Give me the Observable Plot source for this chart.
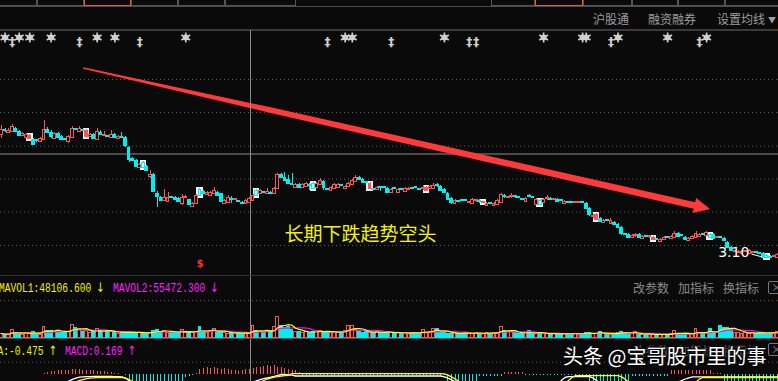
<!DOCTYPE html>
<html><head><meta charset="utf-8">
<script src="https://cdn.jsdelivr.net/npm/d3@7"></script>
<script src="https://cdn.jsdelivr.net/npm/@observablehq/plot@0.6"></script>
<style>
html,body{margin:0;padding:0;background:#0a0a0a;}
#wrap{position:relative;width:778px;height:381px;overflow:hidden;background:#0a0a0a;font-family:"Noto Sans CJK SC","Noto Sans",sans-serif;}
#wrap svg{position:absolute;left:0;}
.mono{font-family:'Liberation Mono','DejaVu Sans Mono',monospace;font-size:12px;line-height:13px;transform:scaleX(0.8);transform-origin:0 0;}
.arr{display:inline-block;font-family:'DejaVu Sans',sans-serif;font-size:13px;margin-left:6px;}
</style></head>
<body><div id="wrap"></div>
<script>
// ---------------- data ----------------
const open = [5.58,5.66,5.62,5.64,5.70,5.64,5.56,5.52,5.50,5.48,5.46,5.44,5.48,5.68,5.62,5.50,5.60,5.54,5.48,5.44,
5.52,5.68,5.64,5.66,5.54,5.54,5.58,5.48,5.62,5.56,5.54,5.52,5.58,5.50,5.54,5.52,5.32,5.10,5.06,4.92,
5.02,4.94,4.74,4.78,4.40,4.32,4.26,4.24,4.32,4.32,4.30,4.20,4.31,4.28,4.14,4.20,4.48,4.44,4.38,4.36,
4.40,4.42,4.40,4.20,4.22,4.28,4.27,4.24,4.22,4.20,4.22,4.26,4.46,4.40,4.42,4.40,4.42,4.40,4.50,4.78,
4.72,4.68,4.60,4.52,4.58,4.52,4.54,4.56,4.60,4.52,4.58,4.64,4.48,4.46,4.50,4.52,4.56,4.50,4.54,4.58,
4.64,4.72,4.68,4.62,4.50,4.48,4.48,4.52,4.52,4.50,4.42,4.50,4.42,4.48,4.44,4.48,4.50,4.52,4.48,4.49,
4.46,4.50,4.50,4.56,4.54,4.48,4.40,4.30,4.20,4.24,4.26,4.26,4.21,4.20,4.25,4.24,4.21,4.16,4.20,4.16,
4.18,4.22,4.34,4.31,4.33,4.34,4.32,4.28,4.24,4.34,4.32,4.18,4.26,4.22,4.29,4.28,4.27,4.28,4.26,4.20,
4.22,4.22,4.21,4.21,4.22,4.20,4.10,3.93,3.88,3.90,3.82,3.86,3.80,3.82,3.78,3.72,3.58,3.58,3.52,3.55,
3.58,3.50,3.54,3.53,3.48,3.48,3.44,3.48,3.52,3.50,3.52,3.60,3.56,3.52,3.46,3.50,3.52,3.54,3.58,3.56,
3.58,3.58,3.51,3.52,3.50,3.42,3.32,3.23,3.22,3.20,3.23,3.20,3.21,3.22,3.20,3.20,3.16,3.14,3.13,3.12];
const close = [5.68,5.65,5.66,5.74,5.64,5.56,5.60,5.58,5.56,5.38,5.45,5.50,5.68,5.62,5.54,5.60,5.52,5.48,5.47,5.54,
5.70,5.67,5.70,5.65,5.66,5.58,5.50,5.64,5.58,5.58,5.53,5.58,5.52,5.54,5.52,5.36,5.08,5.06,4.94,4.98,
4.92,4.86,4.78,4.44,4.34,4.26,4.32,4.32,4.31,4.28,4.24,4.32,4.32,4.18,4.20,4.36,4.36,4.40,4.42,4.42,
4.46,4.36,4.24,4.26,4.32,4.27,4.28,4.23,4.20,4.26,4.30,4.36,4.36,4.46,4.41,4.44,4.40,4.50,4.78,4.72,
4.66,4.60,4.58,4.58,4.52,4.58,4.60,4.55,4.50,4.60,4.66,4.52,4.47,4.52,4.58,4.58,4.55,4.54,4.60,4.66,
4.72,4.68,4.62,4.61,4.60,4.47,4.52,4.51,4.51,4.42,4.48,4.49,4.48,4.47,4.50,4.50,4.49,4.51,4.47,4.50,
4.52,4.54,4.56,4.55,4.46,4.42,4.28,4.22,4.26,4.23,4.25,4.25,4.22,4.28,4.26,4.23,4.22,4.20,4.19,4.20,
4.26,4.38,4.33,4.32,4.34,4.33,4.31,4.27,4.30,4.33,4.31,4.28,4.18,4.28,4.30,4.27,4.28,4.24,4.25,4.24,
4.21,4.21,4.22,4.22,4.21,4.10,3.98,3.94,3.98,3.84,3.86,3.85,3.86,3.78,3.72,3.60,3.57,3.52,3.56,3.56,
3.52,3.54,3.53,3.54,3.52,3.47,3.48,3.52,3.51,3.54,3.60,3.54,3.55,3.48,3.50,3.54,3.60,3.58,3.57,3.62,
3.52,3.50,3.52,3.51,3.46,3.32,3.26,3.24,3.24,3.24,3.24,3.26,3.22,3.21,3.19,3.12,3.12,3.11,3.14,3.18];
const high = [5.76,5.70,5.70,5.78,5.72,5.66,5.62,5.60,5.58,5.50,5.48,5.52,5.86,5.72,5.66,5.62,5.62,5.56,5.50,5.56,
5.74,5.70,5.74,5.68,5.68,5.60,5.60,5.70,5.66,5.64,5.56,5.66,5.60,5.56,5.62,5.54,5.34,5.12,5.08,5.00,
5.04,4.96,4.86,4.80,4.44,4.34,4.48,4.42,4.34,4.34,4.32,4.38,4.36,4.28,4.22,4.38,4.50,4.46,4.44,4.44,
4.52,4.44,4.40,4.28,4.36,4.34,4.30,4.26,4.24,4.28,4.32,4.38,4.48,4.48,4.44,4.50,4.44,4.52,4.80,4.80,
4.82,4.76,4.80,4.60,4.60,4.60,4.62,4.60,4.62,4.62,4.70,4.66,4.50,4.54,4.60,4.60,4.58,4.56,4.62,4.68,
4.76,4.74,4.70,4.64,4.62,4.50,4.54,4.54,4.54,4.52,4.50,4.52,4.50,4.50,4.52,4.52,4.52,4.54,4.50,4.56,
4.54,4.56,4.60,4.60,4.56,4.50,4.42,4.32,4.28,4.26,4.28,4.28,4.24,4.30,4.28,4.28,4.24,4.22,4.22,4.22,
4.28,4.40,4.38,4.34,4.40,4.36,4.34,4.30,4.32,4.38,4.34,4.30,4.28,4.30,4.36,4.32,4.30,4.30,4.28,4.26,
4.24,4.24,4.24,4.24,4.24,4.22,4.12,3.98,4.00,3.92,3.88,3.88,3.90,3.84,3.80,3.74,3.60,3.60,3.58,3.60,
3.60,3.56,3.56,3.56,3.54,3.50,3.50,3.54,3.54,3.56,3.64,3.62,3.58,3.54,3.52,3.56,3.64,3.60,3.60,3.64,
3.60,3.60,3.54,3.54,3.52,3.44,3.34,3.26,3.26,3.26,3.26,3.28,3.24,3.24,3.22,3.22,3.18,3.16,3.16,3.20];
const low = [5.50,5.62,5.60,5.64,5.62,5.54,5.54,5.50,5.48,5.36,5.42,5.42,5.46,5.60,5.50,5.48,5.52,5.46,5.46,5.40,
5.50,5.66,5.62,5.64,5.54,5.52,5.50,5.48,5.56,5.54,5.52,5.52,5.52,5.50,5.50,5.32,5.02,5.04,4.94,4.92,
4.92,4.84,4.70,4.44,4.12,4.26,4.26,4.24,4.30,4.28,4.24,4.16,4.30,4.18,4.14,4.20,4.36,4.38,4.38,4.36,
4.40,4.36,4.24,4.20,4.22,4.20,4.26,4.22,4.20,4.20,4.22,4.26,4.36,4.40,4.40,4.40,4.40,4.40,4.50,4.72,
4.64,4.58,4.56,4.52,4.52,4.52,4.54,4.46,4.50,4.52,4.58,4.46,4.46,4.46,4.50,4.52,4.54,4.50,4.54,4.58,
4.64,4.68,4.62,4.60,4.50,4.46,4.48,4.44,4.50,4.42,4.42,4.48,4.42,4.46,4.44,4.48,4.48,4.50,4.46,4.46,
4.46,4.50,4.50,4.52,4.46,4.42,4.28,4.18,4.20,4.22,4.24,4.24,4.20,4.20,4.22,4.20,4.20,4.16,4.18,4.16,
4.18,4.22,4.30,4.30,4.30,4.30,4.30,4.26,4.24,4.32,4.30,4.18,4.18,4.22,4.26,4.26,4.26,4.24,4.24,4.20,
4.20,4.20,4.20,4.20,4.20,4.10,3.94,3.90,3.88,3.84,3.82,3.84,3.80,3.78,3.72,3.56,3.56,3.52,3.52,3.52,
3.52,3.50,3.52,3.50,3.48,3.46,3.44,3.48,3.50,3.50,3.52,3.54,3.54,3.48,3.46,3.50,3.52,3.54,3.56,3.56,
3.52,3.50,3.50,3.50,3.46,3.32,3.26,3.22,3.22,3.20,3.22,3.20,3.20,3.20,3.18,3.12,3.10,3.11,3.12,3.12];
const volume = [32000,24000,24000,64000,40000,32000,24000,32000,40000,48000,32000,24000,88000,
56000,56000,48000,56000,48000,40000,48000,104000,80000,72000,48000,56000,
40000,48000,72000,56000,48000,56000,48000,40000,32000,40000,48000,48000,40000,32000,40000,40000,32000,
40000,56000,64000,48000,56000,40000,40000,48000,40000,64000,40000,48000,40000,48000,88000,
48000,40000,56000,72000,40000,48000,40000,32000,40000,32000,40000,32000,40000,32000,96000,
56000,48000,40000,48000,56000,88000,168000,96000,80000,88000,64000,48000,48000,40000,48000,40000,48000,
56000,56000,40000,48000,40000,48000,40000,48000,56000,96000,96000,
64000,48000,40000,48000,40000,40000,48000,40000,40000,48000,40000,32000,40000,32000,40000,32000,40000,40000,32000,
64000,40000,48000,72000,72000,40000,40000,32000,32000,40000,32000,32000,40000,32000,
32000,40000,32000,32000,40000,32000,40000,40000,88000,56000,48000,48000,40000,32000,32000,40000,56000,
32000,32000,40000,32000,32000,24000,32000,32000,24000,32000,32000,32000,32000,24000,32000,40000,40000,32000,32000,
48000,32000,32000,24000,32000,40000,48000,40000,32000,32000,48000,
24000,24000,24000,24000,32000,24000,24000,24000,24000,32000,56000,32000,24000,32000,24000,32000,72000,
40000,32000,32000,72000,48000,48000,96000,80000,80000,72000,
40000,40000,32000,40000,32000,40000,32000,40000,40000,32000,40000,32000,48000];
const macd = [-0.01,-0.01,-0.01,-0.01,-0.01,-0.01,-0.01,-0.01,-0.01,-0.01,-0.01,-0.01,0.03,
0.08,0.10,0.11,0.12,0.13,0.14,0.15,0.16,0.18,0.16,0.15,0.14,0.13,0.12,0.11,0.10,0.09,0.08,
0.06,0.04,0.02,0.01,-0.02,
-0.3,-0.3,-0.3,-0.3,-0.3,-0.3,-0.3,-0.3,-0.3,-0.3,-0.3,-0.3,-0.3,-0.3,-0.3,-0.3,
-0.10,-0.05,-0.02,0.02,
0.18,0.20,0.22,0.20,0.23,0.20,0.18,0.19,0.17,0.15,0.13,0.10,0.15,0.16,0.169,
0.20,0.22,0.25,0.28,0.30,0.27,0.30,0.25,0.22,0.20,0.17,0.15,0.12,0.08,
-0.02,-0.02,-0.02,-0.02,-0.02,-0.02,-0.02,-0.02,-0.02,-0.02,-0.02,-0.02,-0.02,-0.02,-0.02,-0.02,-0.02,-0.02,-0.02,-0.02,
-0.02,-0.02,-0.02,-0.02,-0.02,-0.02,-0.02,-0.02,-0.02,-0.02,-0.02,-0.02,-0.02,-0.02,-0.02,-0.02,-0.02,-0.02,-0.02,-0.02,-0.02,
-0.3,-0.3,-0.3,-0.3,-0.3,-0.3,-0.3,-0.3,-0.3,
-0.05,-0.05,-0.05,-0.05,-0.05,-0.05,-0.05,
0.07,0.07,0.07,0.07,0.07,0.07,
-0.03,-0.03,-0.03,-0.03,-0.03,-0.03,-0.03,-0.03,-0.03,-0.03,-0.03,-0.03,-0.03,-0.03,-0.03,-0.03,-0.03,-0.03,
-0.3,-0.3,-0.3,-0.3,-0.3,-0.3,-0.3,-0.3,-0.3,-0.3,-0.3,-0.3,
-0.05,-0.05,-0.05,-0.05,-0.05,-0.05,-0.05,-0.05,-0.05,-0.05,-0.05,
0.13,0.13,0.13,0.13,0.13,0.13,0.13,0.13,0.13,0.13,0.13,0.13,
0.03,0.03,0.03,
-0.3,-0.3,-0.3,-0.3,-0.3,-0.3,-0.3,-0.3,-0.3,-0.3,-0.3,-0.3,-0.3,-0.3,-0.3,-0.3];
const dif = [-0.30,-0.30,-0.30,-0.30,-0.30,-0.30,-0.30,-0.30,-0.30,-0.30,-0.30,-0.30,-0.30,-0.30,-0.30,-0.30,-0.30,-0.30,
-0.26,-0.22,-0.16,-0.12,-0.09,-0.08,-0.07,-0.07,-0.065,-0.06,-0.06,-0.06,-0.06,-0.065,-0.07,-0.07,-0.08,-0.12,-0.20,-0.30,
-0.40,-0.40,-0.40,-0.40,-0.40,-0.40,-0.40,-0.40,-0.40,-0.40,-0.40,-0.40,-0.40,-0.40,-0.40,-0.40,-0.40,-0.40,-0.40,-0.40,
-0.40,-0.40,-0.40,-0.40,-0.40,-0.40,-0.40,-0.40,-0.40,-0.40,-0.40,-0.40,-0.40,
-0.25,-0.21,-0.17,-0.14,-0.11,-0.09,-0.06,-0.03,0.00,0.00,-0.01,-0.02,
-0.05,-0.05,-0.05,-0.05,-0.05,-0.05,-0.05,-0.05,-0.05,-0.05,-0.05,-0.05,-0.05,-0.05,-0.05,-0.05,-0.05,-0.05,-0.05,-0.05,-0.05,
-0.05,-0.05,-0.05,-0.05,-0.05,-0.05,-0.05,-0.05,-0.05,-0.05,-0.05,-0.05,-0.05,-0.05,-0.05,-0.05,-0.05,-0.05,-0.05,-0.05,-0.05,
-0.08,-0.12,-0.18,-0.24,
-0.35,-0.35,-0.35,-0.35,-0.35,-0.35,-0.35,-0.35,-0.35,-0.35,-0.35,-0.35,-0.35,-0.35,-0.35,-0.35,-0.35,-0.35,-0.35,-0.35,
-0.35,-0.35,-0.35,-0.35,-0.35,-0.35,-0.35,-0.35,-0.35,
-0.20,-0.10,-0.07,-0.07,-0.07,-0.07,-0.07,-0.07,-0.07,-0.12,-0.20,
-0.35,-0.35,-0.35,-0.35,-0.35,-0.35,-0.35,-0.35,-0.35,-0.35,-0.35,-0.35,-0.35,-0.35,-0.35,-0.35,-0.35,-0.35,-0.35,-0.35,-0.35,-0.35,
-0.25,-0.20,-0.15,-0.11,-0.08,-0.08,-0.08,-0.08,-0.08,-0.08,-0.08,-0.08,-0.08,-0.08,-0.08,-0.08,-0.08,-0.08,-0.08,-0.08,
-0.08,-0.08,-0.08,-0.08,-0.08,-0.08,-0.08,-0.08,-0.08];
const dea = [-0.30,-0.30,-0.30,-0.30,-0.30,-0.30,-0.30,-0.30,-0.30,-0.30,-0.30,-0.30,-0.30,-0.30,-0.30,-0.30,-0.30,-0.30,-0.30,-0.30,-0.30,
-0.24,-0.20,-0.17,-0.14,-0.12,-0.11,-0.10,-0.10,-0.10,-0.10,-0.10,-0.10,-0.10,-0.10,-0.12,-0.17,-0.24,
-0.40,-0.40,-0.40,-0.40,-0.40,-0.40,-0.40,-0.40,-0.40,-0.40,-0.40,-0.40,-0.40,-0.40,-0.40,-0.40,-0.40,-0.40,-0.40,-0.40,
-0.40,-0.40,-0.40,-0.40,-0.40,-0.40,-0.40,-0.40,-0.40,-0.40,-0.40,-0.40,-0.40,-0.40,-0.40,
-0.26,-0.20,-0.15,-0.12,-0.09,-0.07,-0.05,-0.04,-0.03,
0.03,0.03,0.03,0.03,0.03,0.03,0.03,0.03,0.03,0.03,0.03,0.03,0.03,0.03,0.03,0.03,0.03,0.03,0.03,0.03,0.03,0.03,
0.03,0.03,0.03,0.03,0.03,0.03,0.03,0.03,0.03,0.03,0.03,0.03,0.03,0.03,0.03,0.03,0.03,0.03,0.03,0.03,0.03,
0.02,-0.02,-0.08,-0.15,-0.22,
-0.35,-0.35,-0.35,-0.35,-0.35,-0.35,-0.35,-0.35,-0.35,-0.35,-0.35,-0.35,-0.35,-0.35,-0.35,-0.35,-0.35,-0.35,-0.35,-0.35,
-0.35,-0.35,-0.35,-0.35,-0.35,-0.35,-0.35,-0.35,-0.35,-0.35,
-0.20,-0.10,-0.04,-0.04,-0.04,-0.04,-0.04,-0.04,-0.04,-0.04,-0.04,-0.04,-0.04,-0.04,-0.04,-0.08,-0.16,-0.25,
-0.35,-0.35,-0.35,-0.35,-0.35,-0.35,-0.35,-0.35,-0.35,-0.35,-0.35,-0.35,-0.35,-0.35,-0.35,-0.35,-0.35,-0.35,-0.25,
-0.15,-0.10,-0.10,-0.10,-0.10,-0.10,-0.10,-0.10,-0.10,-0.10,-0.10,-0.10,-0.10,-0.10,-0.10,-0.10,-0.10,-0.10,-0.10,-0.10,
-0.10,-0.10,-0.10];
// markers / annotations (candle indices, prices)
const boxIdx = [8,24,40,56,72,88,104,120,136,152,168,184,200,216];
const starIdx = [1,5,8,14,27,32,52,97,99,125,153,164,165,174,188,199];
const daggerIdx = [3,22,39,92,110,132,134,172,197];
const dollarIdx = [56];
const gridPrices = [6.68,6.02,5.35,4.69,4.03,3.36];
const cursor = {i: 70.3, p: 5.19};
const trendArrow = {from: [23.2, 6.90], to: [200.1, 4.08]};
const trendLabel = {text: "长期下跌趋势空头", i: 101.3, p: 3.58};
const labels = {
  mavol1: "MAVOL1:48106.600", mavol2: "MAVOL2:55472.300",
  dea: "DEA:-0.475", macd: "MACD:0.169",
  tools: ["改参数", "加指标", "换指标"], header: ["沪股通", "融资融券", "设置均线"],
  watermark: "头条 @宝哥股市里的事"
};

// ---------------- drawing ----------------
const RED = "#ff5252", CYAN = "#00f0f0", GRAY = "#d0d0d0", BG = "#0a0a0a";
const N = open.length;
const rows = d3.range(N).map(i => {
  const o = open[i], c = close[i];
  const lo = Math.min(o, c), hi = Math.max(o, c);
  return {i, o, c, h: high[i], l: low[i], v: volume[i], m: macd[i], dif: dif[i], dea: dea[i],
          up: c > o, b0: lo, b1: Math.max(hi, lo + 0.02), box: boxIdx.includes(i)};
});
const xOpt = {domain: [0, N - 1], range: [1, 777], axis: null};
const wrap = document.getElementById("wrap");
function el(css, text, cls) {
  const e = document.createElement("div");
  e.style.cssText = "position:absolute;white-space:nowrap;" + css;
  if (cls) e.className = cls;
  if (text != null) e.innerHTML = text;
  wrap.appendChild(e);
  return e;
}

// top tabs and header
const tabs = [[-20,37],[37,84],[84,131,1],[131,178],[178,225],[225,296],[491,535],[535,583,1],[583,632],[632,678],[678,725],[725,800]];
for (const [a, b, act] of tabs)
  el(`left:${a}px;top:-12px;width:${b - a}px;height:18px;box-sizing:border-box;border:1px solid ${act ? "#e2621a" : "#555"};`);
el("left:0;top:6px;width:778px;height:1px;background:#4a4a4a;");
el("left:0;top:29px;width:778px;height:2px;background:#3a3a3a;");
const hdrX = [593, 648, 717];
labels.header.forEach((t, k) => el(`left:${hdrX[k]}px;top:12px;font-size:12px;line-height:14px;color:#9d9d9d;`, t));
el("left:768px;top:13px;font-size:8px;line-height:14px;color:#9d9d9d;", "▼");

// price pane
const price = Plot.plot({
  width: 778, height: 240, margin: 0,
  x: xOpt,
  y: {domain: [2.86, 7.66], range: [240, 0], axis: null},
  style: {background: "transparent", overflow: "hidden"},
  marks: [
    Plot.ruleY(gridPrices, {stroke: "#5c5c5c", strokeDasharray: "1,3"}),
    Plot.ruleY([cursor.p], {stroke: "#8c8c8c"}),
    Plot.rect(rows.filter(d => d.box), {x1: d => d.i - 0.9, x2: d => d.i + 0.9,
      y1: d => Math.min(d.b0 - 0.05, (d.b0 + d.b1) / 2 - 0.065), y2: d => Math.max(d.b1 + 0.05, (d.b0 + d.b1) / 2 + 0.065),
      fill: "#f4f4f4", shapeRendering: "crispEdges"}),
    Plot.ruleX(rows.filter(d => d.up), {x: "i", y1: "l", y2: "h", stroke: RED, shapeRendering: "crispEdges"}),
    Plot.ruleX(rows.filter(d => !d.up), {x: "i", y1: "l", y2: "h", stroke: CYAN, shapeRendering: "crispEdges"}),
    Plot.rect(rows.filter(d => d.up), {x1: d => d.i - 0.4, x2: d => d.i + 0.4, y1: "b0", y2: "b1",
      fill: d => d.box ? RED : BG, stroke: RED, shapeRendering: "crispEdges"}),
    Plot.rect(rows.filter(d => !d.up), {x1: d => d.i - 0.4, x2: d => d.i + 0.4, y1: "b0", y2: "b1",
      fill: d => d.box ? "#f4f4f4" : CYAN, stroke: CYAN, shapeRendering: "crispEdges"}),
    Plot.dot(starIdx, {x: d => d, frameAnchor: "top", dy: 7, r: 4.8, symbol: "asterisk", stroke: GRAY, strokeWidth: 1.6}),
    Plot.dot(starIdx, {x: d => d, frameAnchor: "top", dy: 7, r: 3.0, fill: GRAY}),
    Plot.text(daggerIdx, {x: d => d, frameAnchor: "top", dy: 7, text: () => "‡", fill: GRAY, fontSize: 12, fontWeight: "bold", fontFamily: "DejaVu Sans"}),
    Plot.text(dollarIdx, {x: d => d, frameAnchor: "bottom", dy: -4, text: () => "$", fill: "#ff3030", fontSize: 10, fontWeight: "bold", fontFamily: "DejaVu Sans"}),
    Plot.text([trendLabel], {x: "i", y: "p", text: "text", fill: "#f4f400", fontSize: 19, fontFamily: "Noto Sans CJK SC"}),
  ]
});
price.style.top = "30px";
wrap.appendChild(price);

const sxo = price.scale("x"), syo = price.scale("y");
const SX = sxo.apply ? v => sxo.apply(v) : d3.scaleLinear(sxo.domain, sxo.range);
const SY = syo.apply ? v => syo.apply(v) : d3.scaleLinear(syo.domain, syo.range);

// trend arrow (tapered) from the price scales
{
  const ax0 = SX(trendArrow.from[0]), ay0 = SY(trendArrow.from[1]);
  const ax1 = SX(trendArrow.to[0]), ay1 = SY(trendArrow.to[1]);
  const len = Math.hypot(ax1 - ax0, ay1 - ay0), ux = (ax1 - ax0) / len, uy = (ay1 - ay0) / len, nx = -uy, ny = ux;
  const P = (t, w) => [ax0 + ux * t + nx * w, ay0 + uy * t + ny * w];
  const hl = 16, hw = 7.8;
  const pts = [P(0, 0.8), P(len * 0.3, 2.8), P(len - hl, 3.4), P(len - hl, hw), P(len, 0), P(len - hl, -hw), P(len - hl, -3.4), P(len * 0.3, -2.8), P(0, -0.8)];
  d3.select(price).append("path").attr("d", "M" + pts.map(p => p.join(",")).join("L") + "Z").attr("fill", "#ff3a3a");
}
// lowest-price annotation
{
  const lowRow = rows.reduce((a, b) => b.l < a.l ? b : a);
  const lx = SX(lowRow.i), ly = SY(lowRow.l);
  const g = d3.select(price).append("g");
  g.append("text").attr("x", lx - 17).attr("y", ly - 1).attr("text-anchor", "end").attr("fill", "#fff")
    .attr("font-size", 14).attr("font-family", "DejaVu Sans").text(lowRow.l.toFixed(2));
  g.append("line").attr("x1", lx - 15).attr("y1", ly - 4).attr("x2", lx - 4).attr("y2", ly - 1).attr("stroke", "#fff");
}

// crosshair vertical through all panes
el(`left:${Math.round(SX(cursor.i))}px;top:30px;width:1px;height:351px;background:#8c8c8c;`);

// volume pane
el("left:0;top:275px;width:778px;height:1px;background:#333;");
el("left:-1px;top:281px;color:#f0f000;", labels.mavol1 + '<span class="arr">↓</span>', "mono");
el("left:113px;top:281px;color:#ff20ff;", labels.mavol2 + '<span class="arr">↓</span>', "mono");
const toolX = [633, 678, 723];
labels.tools.forEach((t, k) => el(`left:${toolX[k]}px;top:281px;font-size:12px;line-height:13px;color:#8a8a8a;`, t));
el("left:768px;top:281px;width:14px;height:13px;box-sizing:border-box;border:1px solid #777;border-radius:2px;color:#888;font-size:11px;line-height:11px;padding-left:2px;", "×");

const vol = Plot.plot({
  width: 778, height: 42, margin: 0,
  x: xOpt,
  y: {domain: [0, 300000], range: [41, 4], axis: null},
  style: {background: "transparent", overflow: "hidden"},
  marks: [
    Plot.ruleY([300000], {stroke: "#5c5c5c", strokeDasharray: "1,3"}),
    Plot.rect(rows.filter(d => d.up), {x1: d => d.i - 0.4, x2: d => d.i + 0.4, y1: 0, y2: "v", fill: BG, stroke: RED, shapeRendering: "crispEdges"}),
    Plot.rect(rows.filter(d => !d.up), {x1: d => d.i - 0.4, x2: d => d.i + 0.4, y1: 0, y2: "v", fill: CYAN, stroke: CYAN, shapeRendering: "crispEdges"}),
    Plot.line(rows, Plot.windowY({k: 10, anchor: "end"}, {x: "i", y: "v", stroke: "#ff00ff", strokeWidth: 1.2})),
    Plot.line(rows, Plot.windowY({k: 5, anchor: "end"}, {x: "i", y: "v", stroke: "#ffff00", strokeWidth: 1.2})),
  ]
});
vol.style.top = "296px";
wrap.appendChild(vol);
el("left:0;top:338px;width:778px;height:1px;background:#4a4a4a;");

// MACD pane
el("left:-14px;top:344px;color:#f0f000;", labels.dea + '<span class="arr">↑</span>', "mono");
el("left:65px;top:344px;color:#ff20ff;", labels.macd + '<span class="arr">↑</span>', "mono");
labels.tools.forEach((t, k) => el(`left:${toolX[k]}px;top:344px;font-size:12px;line-height:13px;color:#6a6a6a;`, t));
el("left:768px;top:343px;width:14px;height:13px;box-sizing:border-box;border:1px solid #777;border-radius:2px;color:#888;font-size:11px;line-height:11px;padding-left:2px;", "×");

const mp = Plot.plot({
  width: 778, height: 42, margin: 0,
  x: xOpt,
  y: {domain: [-0.2333, 1.1667], range: [42, 0], axis: null},
  style: {background: "transparent", overflow: "hidden"},
  marks: [
    Plot.ruleY([0.41], {stroke: "#5c5c5c", strokeDasharray: "1,3"}),
    Plot.ruleX(rows.filter(d => d.m >= 0), {x: "i", y1: 0, y2: "m", stroke: RED, shapeRendering: "crispEdges"}),
    Plot.ruleX(rows.filter(d => d.m < 0), {x: "i", y1: 0, y2: "m", stroke: CYAN, shapeRendering: "crispEdges"}),
    Plot.line(rows, {x: "i", y: "dif", stroke: "#ffffff", strokeWidth: 1.3, clip: true}),
    Plot.line(rows, {x: "i", y: "dea", stroke: "#ffff00", strokeWidth: 1.3, clip: true}),
  ]
});
mp.style.top = "339px";
wrap.appendChild(mp);

// watermark
el("left:563px;top:343px;font-size:20px;line-height:26px;color:#ffffff;text-shadow:0 0 2px #000,1px 1px 2px #000,-1px -1px 2px #000,0 0 4px #222;", labels.watermark);
</script>
</body></html>
